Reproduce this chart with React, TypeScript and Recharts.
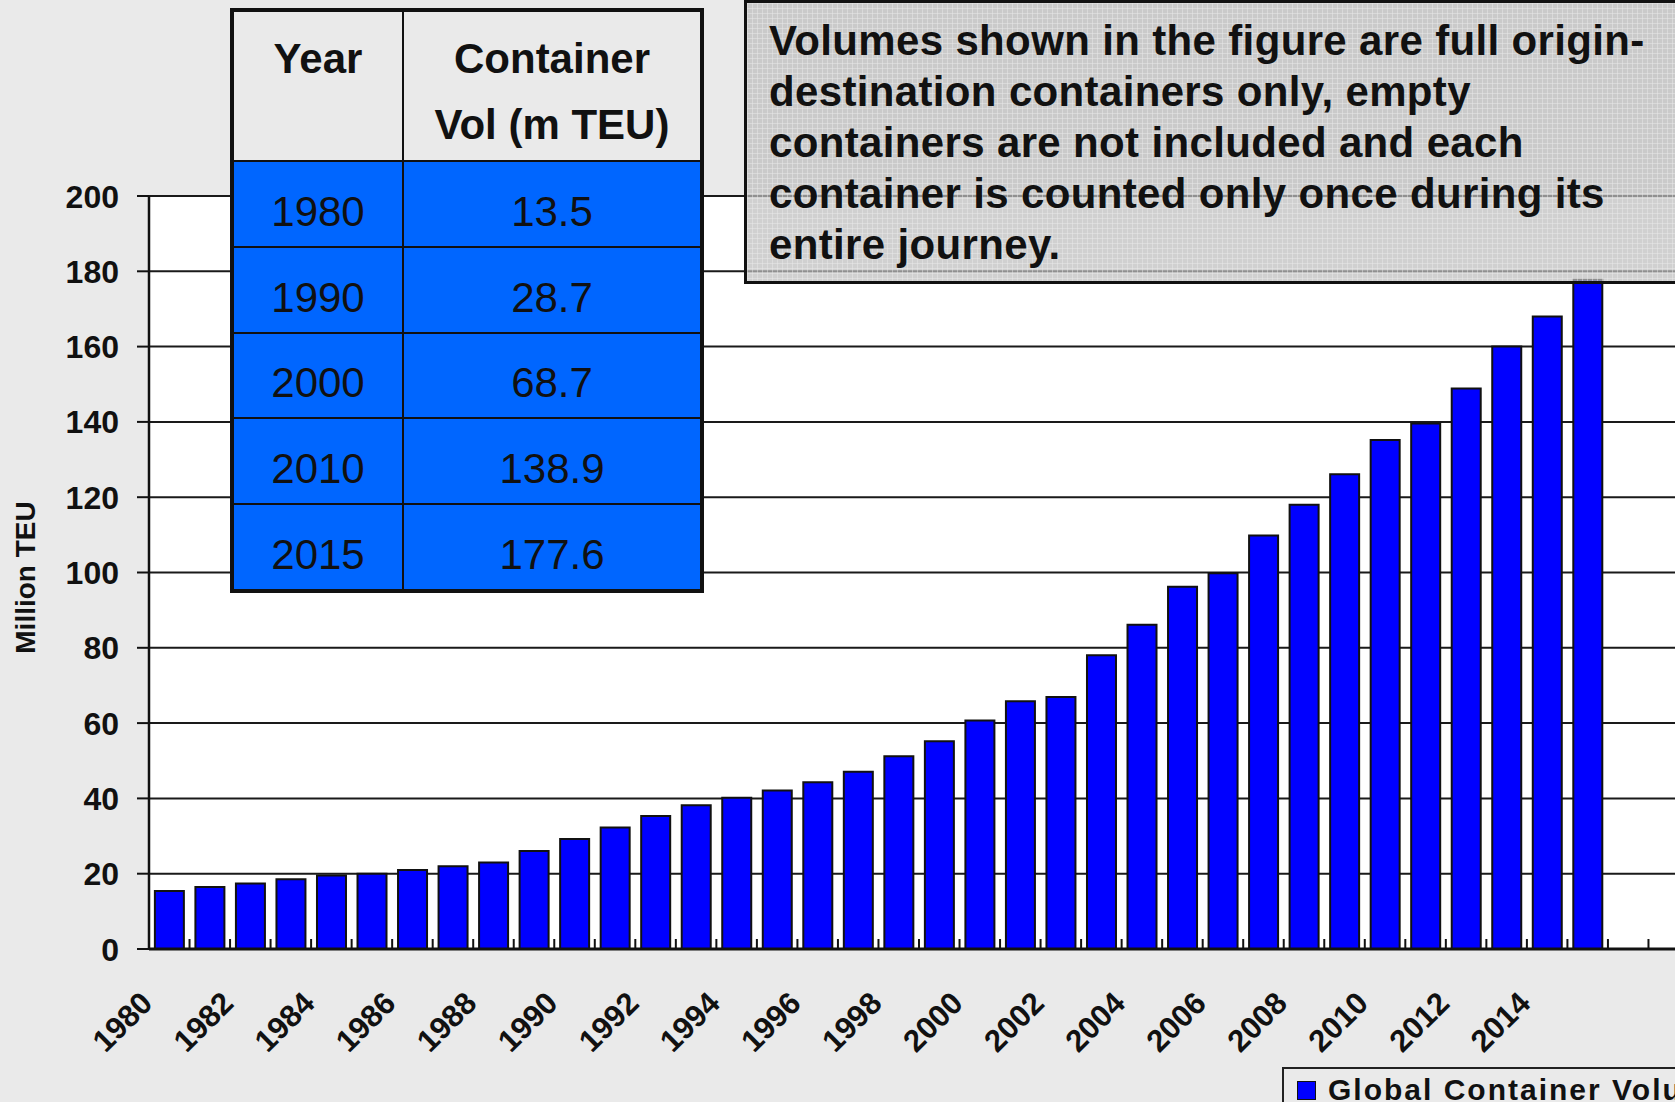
import React from "react";
import { BarChart, Bar, XAxis, YAxis, CartesianGrid, Legend } from "recharts";

const FONT = "'Liberation Sans', Arial, Helvetica, sans-serif";

// chart values
const years = [
  "1980", "1981", "1982", "1983", "1984", "1985", "1986", "1987", "1988", "1989",
  "1990", "1991", "1992", "1993", "1994", "1995", "1996", "1997", "1998", "1999",
  "2000", "2001", "2002", "2003", "2004", "2005", "2006", "2007", "2008", "2009",
  "2010", "2011", "2012", "2013", "2014", "2015", "2016", "2017",
];
const volumes = [
  15.4, 16.5, 17.4, 18.5, 19.5, 20.0, 21.0, 22.0, 23.0, 26.0,
  29.2, 32.3, 35.3, 38.2, 40.2, 42.1, 44.3, 47.1, 51.2, 55.2,
  60.7, 65.8, 66.9, 78.0, 86.1, 96.2, 99.8, 109.8, 118.0, 126.1,
  135.2, 139.6, 148.9, 160.0, 168.0, 177.8, null, null,
];
const labeledYears = [
  "1980", "1982", "1984", "1986", "1988", "1990", "1992", "1994", "1996",
  "1998", "2000", "2002", "2004", "2006", "2008", "2010", "2012", "2014",
];
const yTicks = [0, 20, 40, 60, 80, 100, 120, 140, 160, 180, 200];

// inset table
const tableYears = ["1980", "1990", "2000", "2010", "2015"];
const tableVolumes = ["13.5", "28.7", "68.7", "138.9", "177.6"];

const noteLines = [
  "Volumes shown in the figure are full origin-",
  "destination containers only, empty",
  "containers are not included and each",
  "container is counted only once during its",
  "entire journey.",
];

const data = years.map((year, i) => ({ year, volume: volumes[i] }));

function YTick({ x, y, payload }: any) {
  return (
    <text x={x} y={y} dy={11.5} textAnchor="end" fontFamily={FONT} fontSize={32} fontWeight="bold" fill="#111">
      {payload.value}
    </text>
  );
}

function XTick({ x, y, payload }: any) {
  const half = typeof payload.offset === "number" && payload.offset > 0 ? payload.offset : 20.27;
  const show = labeledYears.includes(payload.value);
  return (
    <g>
      <line x1={x + half} x2={x + half} y1={y} y2={y - 10} stroke="#111" strokeWidth={2} />
      {show && (
        <text
          transform={`translate(${x - 15},${y + 56}) rotate(-45)`}
          textAnchor="end"
          fontFamily={FONT}
          fontSize={31}
          fontWeight="bold"
          fill="#111"
        >
          {payload.value}
        </text>
      )}
    </g>
  );
}

function YLabel({ viewBox }: any) {
  const cx = viewBox.x + 25;
  const cy = viewBox.y + viewBox.height / 2 + 5;
  return (
    <text
      transform={`translate(${cx},${cy}) rotate(-90)`}
      textAnchor="middle"
      dominantBaseline="central"
      fontFamily={FONT}
      fontSize={28}
      fontWeight="bold"
      fill="#111"
    >
      Million TEU
    </text>
  );
}

function LegendBox({ payload }: any) {
  const item = payload && payload[0];
  return (
    <div
      style={{
        position: "relative",
        width: 420,
        height: 60,
        boxSizing: "border-box",
        borderTop: "2px solid #222",
        borderLeft: "2px solid #222",
        background: "#EAEAEA",
      }}
    >
      <span
        style={{
          position: "absolute",
          left: 13,
          top: 12,
          width: 19,
          height: 19,
          boxSizing: "border-box",
          background: (item && item.color) || "#0000FF",
          border: "1.5px solid #111",
        }}
      />
      <span
        style={{
          position: "absolute",
          left: 44,
          top: 4,
          fontFamily: FONT,
          fontSize: 30,
          lineHeight: "34px",
          fontWeight: "bold",
          letterSpacing: 2,
          color: "#111",
          whiteSpace: "nowrap",
        }}
      >
        {item ? item.value : "Global Container Volume"}
      </span>
    </div>
  );
}

const headCell: React.CSSProperties = {
  background: "#EAEAEA",
  display: "flex",
  flexDirection: "column",
  alignItems: "center",
  justifyContent: "flex-start",
  paddingTop: 14,
  boxSizing: "border-box",
  fontSize: 42,
  fontWeight: "bold",
  lineHeight: "66px",
  color: "#111",
};

const dataCell: React.CSSProperties = {
  background: "#0066FF",
  display: "flex",
  alignItems: "center",
  justifyContent: "center",
  paddingTop: 16,
  boxSizing: "border-box",
  fontSize: 42,
  color: "#111",
};

export default function App() {
  return (
    <div style={{ position: "relative", width: 1675, height: 1102, overflow: "hidden", background: "#EAEAEA" }}>
      <style>{"html,body{margin:0;padding:0;overflow:hidden;background:#EAEAEA}"}</style>
      <BarChart
        width={1700}
        height={1102}
        data={data}
        margin={{ top: 196, right: 11, bottom: 0, left: 0 }}
        barCategoryGap="14.5%"
      >
        <CartesianGrid vertical={false} stroke="#1a1a1a" strokeWidth={2} fill="#ffffff" fillOpacity={1} />
        <XAxis
          dataKey="year"
          interval={0}
          height={153}
          tickSize={0}
          tickMargin={0}
          tickLine={false}
          axisLine={{ stroke: "#111", strokeWidth: 3 }}
          tick={<XTick />}
        />
        <YAxis
          domain={[0, 200]}
          ticks={yTicks}
          interval={0}
          width={149}
          tickSize={12}
          tickMargin={18}
          tickLine={{ stroke: "#111", strokeWidth: 2 }}
          axisLine={{ stroke: "#111", strokeWidth: 2.5 }}
          tick={<YTick />}
          label={(props: any) => <YLabel {...props} />}
        />
        <Legend
          layout="vertical"
          align="center"
          verticalAlign="middle"
          wrapperStyle={{ left: 1282, top: 1067, width: 420, height: 60 }}
          content={(props: any) => <LegendBox {...props} />}
        />
        <Bar
          dataKey="volume"
          name="Global Container Volume"
          fill="#0000FF"
          stroke="#111"
          strokeWidth={2}
          isAnimationActive={false}
        />
      </BarChart>

      {/* inset table */}
      <div
        style={{
          position: "absolute",
          left: 230,
          top: 8,
          width: 474,
          height: 585,
          boxSizing: "border-box",
          border: "4px solid #111",
          background: "#111",
          display: "grid",
          gridTemplateColumns: "168px 1fr",
          gridTemplateRows: "148px repeat(5, 1fr)",
          columnGap: 2,
          rowGap: 2,
          fontFamily: FONT,
        }}
      >
        <div style={headCell}>Year</div>
        <div style={headCell}>
          <span>Container</span>
          <span>Vol (m TEU)</span>
        </div>
        {tableYears.map((y, i) => (
          <React.Fragment key={y}>
            <div style={dataCell}>{y}</div>
            <div style={dataCell}>{tableVolumes[i]}</div>
          </React.Fragment>
        ))}
      </div>

      {/* note box */}
      <div
        style={{
          position: "absolute",
          left: 744,
          top: 0,
          width: 1000,
          height: 284,
          boxSizing: "border-box",
          border: "3.5px solid #111",
          backgroundColor: "rgba(190,190,190,0.72)",
          backgroundImage:
            "linear-gradient(rgba(236,236,236,0.45) 1px, transparent 1px), linear-gradient(90deg, rgba(236,236,236,0.45) 1px, transparent 1px)",
          backgroundSize: "5px 5px",
          padding: "12px 0 0 22px",
          fontFamily: FONT,
          fontSize: 42,
          fontWeight: "bold",
          letterSpacing: 0.35,
          lineHeight: "51px",
          color: "#111",
          whiteSpace: "nowrap",
        }}
      >
        {noteLines.map((line) => (
          <div key={line}>{line}</div>
        ))}
      </div>
    </div>
  );
}
